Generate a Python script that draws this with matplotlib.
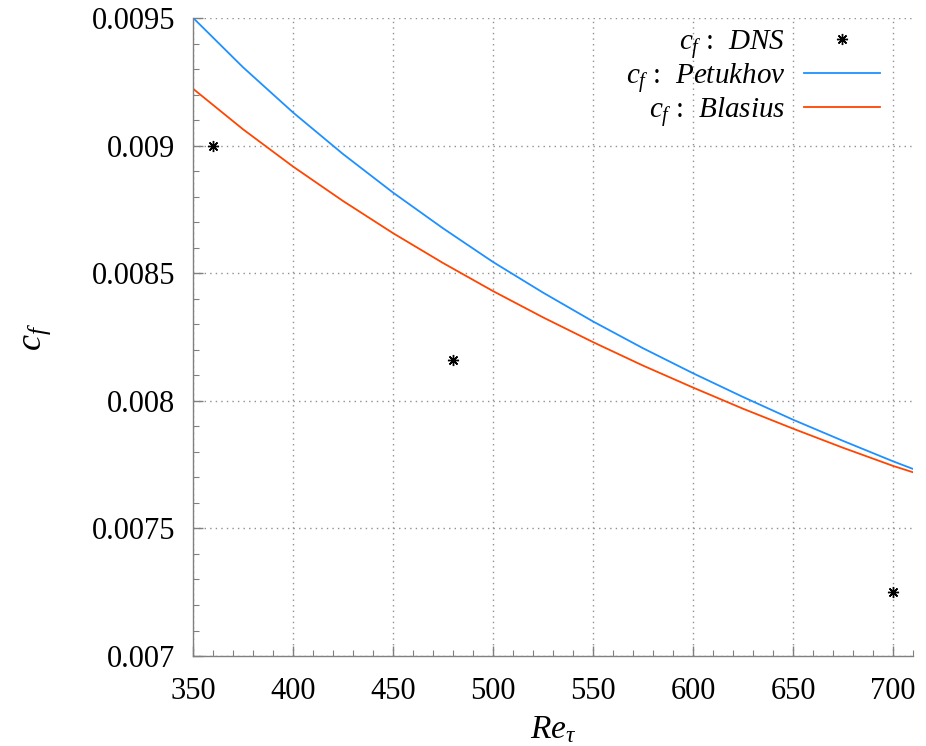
import numpy as np
import matplotlib.pyplot as plt
from matplotlib.ticker import MultipleLocator

plt.rcParams['font.family'] = ['Liberation Serif', 'DejaVu Serif']
plt.rcParams['mathtext.fontset'] = 'custom'
plt.rcParams['mathtext.rm'] = 'Liberation Serif'
plt.rcParams['mathtext.it'] = 'Liberation Serif:italic'
plt.rcParams['mathtext.bf'] = 'Liberation Serif:bold'

# DNS friction coefficients
re_dns = [360, 480, 700]
cf_dns = [0.0090, 0.00816, 0.00725]

# correlations, sampled along Re_tau
re_corr = [350, 375, 400, 425, 450, 475, 500, 525, 550, 575, 600, 625, 650, 675, 700, 710]
cf_petukhov = [0.009501, 0.009307, 0.00913, 0.008967, 0.008816, 0.008676, 0.008544, 0.008424,
               0.008311, 0.008206, 0.008108, 0.008015, 0.007926, 0.007843, 0.007763, 0.007733]
cf_blasius = [0.009223, 0.009064, 0.008918, 0.008783, 0.008657, 0.008540, 0.008430, 0.008327,
              0.008230, 0.008138, 0.008052, 0.007969, 0.007891, 0.007816, 0.007745, 0.007720]

fig = plt.figure(figsize=(9.26, 7.46), dpi=100)
ax = fig.add_axes([0.2084, 0.1206, 0.7776, 0.8553])

ax.plot(re_dns, cf_dns, linestyle='none', marker=(8, 2, 0), markersize=8,
        markeredgewidth=1.0, color='black', label=r'$c_f$ :  $DNS$')
ax.plot(re_corr, cf_petukhov, color='#1e90ff', linewidth=1.3, label=r'$c_f$ :  $Petukhov$')
ax.plot(re_corr, cf_blasius, color='#ff4500', linewidth=1.3, label=r'$c_f$ :  $Blasius$')

ax.set_xlim(350, 710)
ax.set_ylim(0.007, 0.0095)
ax.xaxis.set_major_locator(MultipleLocator(50))
ax.xaxis.set_minor_locator(MultipleLocator(10))
ax.yaxis.set_minor_locator(MultipleLocator(0.0001))
ax.set_yticks([0.007, 0.0075, 0.008, 0.0085, 0.009, 0.0095])
ax.set_yticklabels(['0.007', '0.0075', '0.008', '0.0085', '0.009', '0.0095'])

for side in ['top', 'right']:
    ax.spines[side].set_visible(False)
for side in ['left', 'bottom']:
    ax.spines[side].set_color('#808080')
    ax.spines[side].set_linewidth(1.0)

ax.tick_params(which='both', direction='in', color='#808080', labelsize=22)
ax.tick_params(which='major', length=7, width=1.0)
ax.tick_params(which='minor', length=4, width=0.8)
ax.tick_params(axis='y', pad=13)
ax.tick_params(axis='x', pad=15)

ax.grid(True, which='major', linestyle=(0, (1, 3)), color='#909090', linewidth=1.0)

ax.set_xlabel(r'$Re_{\tau}$', fontsize=24, labelpad=6)
ax.set_ylabel(r'$c_f$', fontsize=26, labelpad=28)

ax.legend(loc='upper right', bbox_to_anchor=(0.954, 0.985), frameon=False,
          markerfirst=False, fontsize=21, handlelength=2.6, handletextpad=0.65,
          labelspacing=0.0, borderpad=0.0, borderaxespad=0.0)

fig.savefig('out.png', dpi=100)
